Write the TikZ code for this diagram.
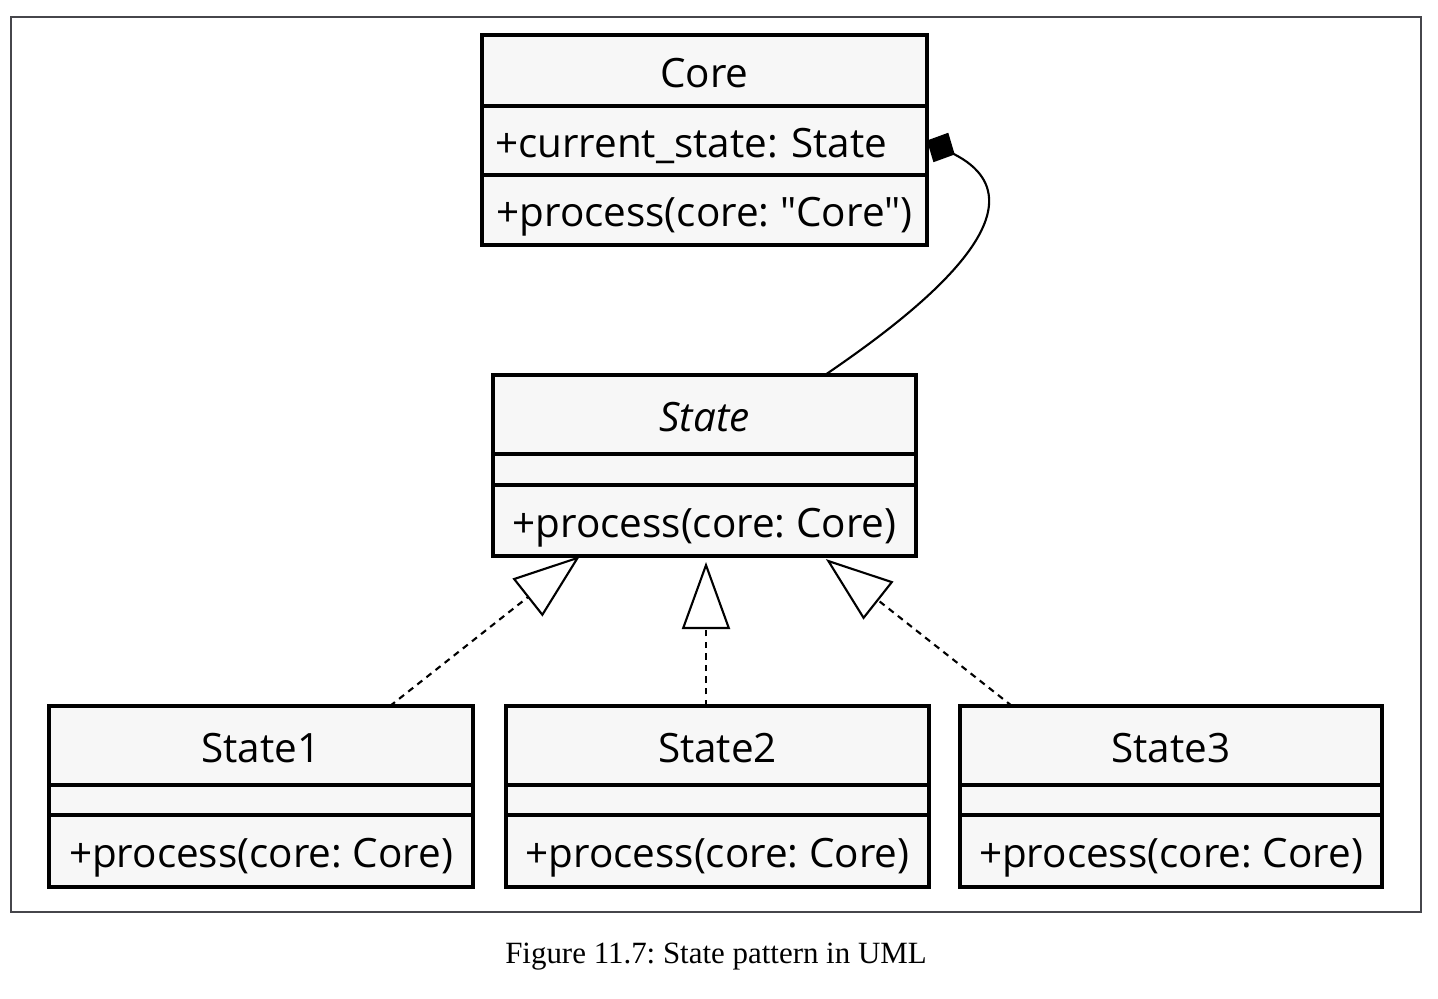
\documentclass[tikz,border=0pt]{standalone}
\usepackage{fontspec}
\usepackage{xcolor}
\usepackage{tikz}
\usetikzlibrary{positioning,arrows.meta,calc}
\newfontfamily\boxfont{Open Sans}
\newfontfamily\captionfont{Liberation Serif}
\definecolor{classbg}{RGB}{247,247,247}
\definecolor{framegray}{RGB}{70,70,75}
\frenchspacing

\begin{document}
\begin{tikzpicture}[
    classpart/.style={draw, line width=0.9pt, fill=classbg, outer sep=0pt,
        inner xsep=0.13cm, inner ysep=0pt, anchor=north,
        font=\boxfont\fontsize{11.5}{13.5}\selectfont},
    classrow/.style={classpart, text height=1.2em, text depth=0.24em},
    realize/.style={line width=0.6pt, dash pattern=on 1.8pt off 1.5pt,
        -{Triangle[open, length=0.67cm, width=0.48cm]}},
    compose/.style={line width=0.6pt, {Diamond[length=0.31cm, width=0.33cm]}-}
]
    \useasboundingbox (0,0) rectangle (14.38,-9.98);

    % Frame
    \draw[framegray, line width=0.6pt] (0.11,-0.17) rectangle (14.21,-9.12);

    % Core class
    \node[classrow, minimum width=4.45cm, minimum height=0.71cm] (coretitle) at (7.045,-0.35) {Core};
    \node[classrow, text width=4.19cm, align=left, minimum height=0.69cm, below=0pt of coretitle] (coreattr) {+current\_state: State};
    \node[classrow, minimum width=4.45cm, minimum height=0.70cm, below=0pt of coreattr] (coreops) {+process(core: "Core")};

    % Abstract State class
    \node[classrow, minimum width=4.23cm, minimum height=0.79cm] (statetitle) at (7.045,-3.75) {\itshape State};
    \node[classpart, minimum width=4.23cm, minimum height=0.31cm, below=0pt of statetitle] (stateattr) {};
    \node[classrow, minimum width=4.23cm, minimum height=0.71cm, below=0pt of stateattr] (stateops) {+process(core: Core)};

    % Concrete states
    \node[classrow, minimum width=4.23cm, minimum height=0.79cm] (s2title) at (7.175,-7.06) {State2};
    \node[classpart, minimum width=4.23cm, minimum height=0.30cm, below=0pt of s2title] (s2attr) {};
    \node[classrow, minimum width=4.23cm, minimum height=0.72cm, below=0pt of s2attr] (s2ops) {+process(core: Core)};

    \node[classrow, minimum width=4.24cm, minimum height=0.79cm, left=0.33cm of s2title] (s1title) {State1};
    \node[classpart, minimum width=4.24cm, minimum height=0.30cm, below=0pt of s1title] (s1attr) {};
    \node[classrow, minimum width=4.24cm, minimum height=0.72cm, below=0pt of s1attr] (s1ops) {+process(core: Core)};

    \node[classrow, minimum width=4.22cm, minimum height=0.79cm, right=0.31cm of s2title] (s3title) {State3};
    \node[classpart, minimum width=4.22cm, minimum height=0.30cm, below=0pt of s3title] (s3attr) {};
    \node[classrow, minimum width=4.22cm, minimum height=0.72cm, below=0pt of s3attr] (s3ops) {+process(core: Core)};

    % Composition
    \draw[compose] (coreattr.east) .. controls +(1.35,-0.68) and +(0.70,0.48) .. ([xshift=1.205cm]statetitle.north);

    % Realizations
    \draw[realize] ([xshift=1.29cm]s1title.north) -- ([xshift=-1.245cm]stateops.south);
    \draw[realize, shorten >=0.06cm] ([xshift=-0.115cm]s2title.north) -- ([xshift=0.015cm]stateops.south);
    \draw[realize, shorten >=0.05cm] ([xshift=-1.59cm]s3title.north) -- ([xshift=1.175cm]stateops.south);

    % Caption
    \node[font=\captionfont\fontsize{8.8}{10}\selectfont] (caption) at (7.16,-9.57) {Figure 11.7: State pattern in UML};
\end{tikzpicture}
\end{document}
